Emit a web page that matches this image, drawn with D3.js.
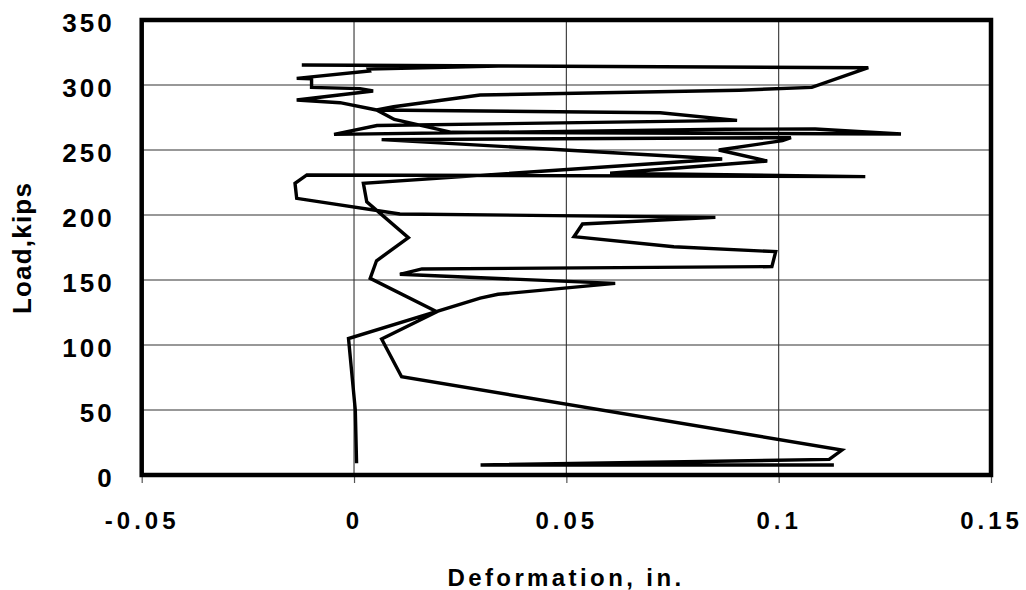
<!DOCTYPE html>
<html>
<head>
<meta charset="utf-8">
<script src="https://cdn.jsdelivr.net/npm/d3@7"></script>
<style>
  html, body { margin: 0; padding: 0; background: #fff; }
  svg { display: block; font-family: "Liberation Sans", Arial, sans-serif; }
</style>
</head>
<body>
<svg id="chart" width="1026" height="590"></svg>
<script>
// ---- data (deformation in inches, load in kips) ----
// lower trace (read bottom-up and back down)
const defA  = [0.0006, 0.0003, -0.0013, 0.0297, 0.0339, 0.0615, 0.0108, 0.0160, 0.0984, 0.0993,
               0.0753, 0.0518, 0.0538, 0.0851, 0.0108, -0.0135, -0.0139, -0.0111, 0.1204, 0.0603,
               0.0973, 0.0859, 0.1009, 0.1029, 0.0065, 0.0867, 0.0022, 0.0030, 0.0128, 0.0053,
               0.0038, 0.0195, 0.0065, 0.0112, 0.1149, 0.1119, 0.0298, 0.1130];
const loadA = [9, 50, 105, 136, 139, 147.4, 154.4, 158.5, 160.3, 171.8,
               175.6, 183.3, 193.1, 198.2, 200.8, 212.8, 224.4, 230.8, 229.5, 232.1,
               241.5, 250, 257.2, 259.5, 258.0, 243.1, 224.4, 210.2, 182.5, 164.8,
               151.3, 125.6, 104.6, 75.6, 19.2, 12, 7.7, 7.7];
// upper trace
const defB  = [0.0340, 0.0034, 0.0036, -0.0135, -0.0100, -0.0100, 0.0014, 0.0045, -0.0135, -0.0033,
               0.0053, 0.0095, 0.0230, 0.1288, 0.1086, 0.0875, -0.0047, 0.0054, 0.0902, 0.0721,
               0.0053, 0.0093, 0.0297, 0.0907, 0.1078, 0.1211, -0.0123];
const loadB = [314.6, 312.2, 310.8, 305.1, 304.8, 298.2, 297.2, 295.4, 288.5, 286.4,
               280.8, 273.5, 263.6, 262.3, 266.2, 266.0, 262.0, 268.8, 272.8, 278.7,
               280.8, 283.3, 292.3, 296.0, 298.2, 313.3, 315.4];

const xTicks = [-0.05, 0, 0.05, 0.1, 0.15];
const xTickLabels = ["-0.05", "0", "0.05", "0.1", "0.15"];
const yTicks = [0, 50, 100, 150, 200, 250, 300, 350];
const xTitle = "Deformation, in.";
const yTitle = "Load,kips";

// ---- layout ----
const L = 141.7, R = 991, T = 20, B = 475;
const svg = d3.select("#chart");
const x = d3.scaleLinear().domain([-0.05, 0.15]).range([L, R]);
const y = d3.scaleLinear().domain([0, 350]).range([B, T]);

// gridlines
const grid = svg.append("g");
grid.selectAll("line.v").data(xTicks.slice(1, -1)).join("line")
  .attr("x1", d => x(d)).attr("x2", d => x(d)).attr("y1", T).attr("y2", B)
  .attr("stroke", "#333").attr("stroke-width", 1.1);
grid.selectAll("line.h").data(yTicks.slice(1, -1)).join("line")
  .attr("x1", L).attr("x2", R).attr("y1", d => y(d)).attr("y2", d => y(d))
  .attr("stroke", "#333").attr("stroke-width", 1.1);

// x axis (ticks below frame)
const xAxis = svg.append("g").attr("transform", `translate(0,${B})`)
  .call(d3.axisBottom(x).tickValues(xTicks).tickSize(8).tickSizeOuter(0)
        .tickFormat((d, i) => xTickLabels[i]));
xAxis.select(".domain").remove();
xAxis.selectAll(".tick line").attr("stroke", "#555").attr("stroke-width", 1.2);
xAxis.selectAll(".tick text")
  .attr("y", 54).attr("dy", 0)
  .attr("fill", "#000")
  .style("font-size", "24px").style("font-weight", "bold")
  .style("letter-spacing", "4px")
  .style("font-family", '"Liberation Sans", Arial, sans-serif');

// y axis labels
const yAxis = svg.append("g").attr("transform", `translate(${L},0)`)
  .call(d3.axisLeft(y).tickValues(yTicks).tickSize(0).tickFormat(d3.format("d")));
yAxis.select(".domain").remove();
yAxis.selectAll(".tick text")
  .attr("x", -27).attr("dy", "11px")
  .attr("fill", "#000")
  .style("font-size", "26px").style("font-weight", "bold")
  .style("letter-spacing", "3px")
  .style("font-family", '"Liberation Sans", Arial, sans-serif');

// data lines
const line = d3.line().x(d => x(d[0])).y(d => y(d[1]));
const seriesA = defA.map((d, i) => [d, loadA[i]]);
const seriesB = defB.map((d, i) => [d, loadB[i]]);
svg.append("g").selectAll("path").data([seriesA, seriesB]).join("path")
  .attr("d", line)
  .attr("fill", "none").attr("stroke", "#000")
  .attr("stroke-width", 3.4).attr("stroke-linejoin", "miter").attr("stroke-miterlimit", 3);

// frame
svg.append("rect").attr("x", L).attr("y", T).attr("width", R - L).attr("height", B - T)
  .attr("fill", "none").attr("stroke", "#000").attr("stroke-width", 4.5);

// titles
svg.append("text").text(xTitle)
  .attr("x", 566).attr("y", 586).attr("text-anchor", "middle")
  .style("font-size", "24px").style("font-weight", "bold").style("letter-spacing", "3.4px");
svg.append("text").text(yTitle)
  .attr("transform", "translate(31,248) rotate(-90)").attr("text-anchor", "middle")
  .style("font-size", "26px").style("font-weight", "bold").style("letter-spacing", "1.2px");
</script>
</body>
</html>
